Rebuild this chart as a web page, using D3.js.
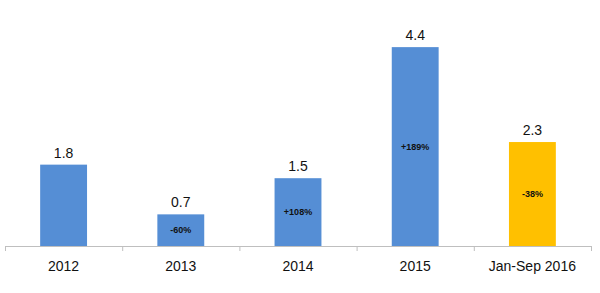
<!DOCTYPE html>
<meta charset="utf-8">
<style>
body { margin: 0; background: #fff; }
text { font-family: "Liberation Sans", Arial, sans-serif; fill: #111; }
.value { font-size: 14px; text-anchor: middle; }
.change { font-size: 9px; font-weight: bold; text-anchor: middle; }
.axis text { font-size: 14px; fill: #111; }
</style>
<svg width="600" height="293"></svg>
<script src="https://d3js.org/d3.v7.min.js"></script>
<script>

var categories = ["2012", "2013", "2014", "2015", "Jan-Sep 2016"];
var values = [1.8, 0.7, 1.5, 4.4, 2.3];
var changes = ["", "-60%", "+108%", "+189%", "-38%"];
var colors = ["#558ED5", "#558ED5", "#558ED5", "#558ED5", "#FFC000"];

var svg = d3.select("svg");

var x = d3.scaleBand()
    .domain(categories)
    .range([5, 591])
    .paddingInner(0.6)
    .paddingOuter(0.3);

var y = d3.scaleLinear()
    .domain([0, 5])
    .range([246, 20]);

var data = categories.map(function(c, i) {
  return {cat: c, value: values[i], change: changes[i], color: colors[i]};
});

// axis line with ticks between the categories
var axis = svg.append("g").attr("class", "axis");
axis.append("line")
    .attr("x1", 5).attr("x2", 591)
    .attr("y1", y(0) + 0.5).attr("y2", y(0) + 0.5)
    .attr("stroke", "#BFBFBF");
axis.selectAll(".tick")
    .data(d3.range(categories.length + 1))
  .enter().append("line")
    .attr("x1", function(i) { return 5 + i * 586 / categories.length + 0.5; })
    .attr("x2", function(i) { return 5 + i * 586 / categories.length + 0.5; })
    .attr("y1", y(0))
    .attr("y2", y(0) + 5)
    .attr("stroke", "#BFBFBF");
axis.selectAll(".lbl")
    .data(categories)
  .enter().append("text")
    .attr("x", function(d) { return x(d) + x.bandwidth() / 2; })
    .attr("y", 271)
    .attr("text-anchor", "middle")
    .text(function(d) { return d; });

svg.selectAll(".bar")
    .data(data)
  .enter().append("rect")
    .attr("class", "bar")
    .attr("x", function(d) { return x(d.cat); })
    .attr("width", x.bandwidth())
    .attr("y", function(d) { return y(d.value); })
    .attr("height", function(d) { return y(0) - y(d.value); })
    .attr("fill", function(d) { return d.color; });

svg.selectAll(".value")
    .data(data)
  .enter().append("text")
    .attr("class", "value")
    .attr("x", function(d) { return x(d.cat) + x.bandwidth() / 2; })
    .attr("y", function(d) { return y(d.value) - 7; })
    .text(function(d) { return d.value.toFixed(1); });

svg.selectAll(".change")
    .data(data.filter(function(d) { return d.change; }))
  .enter().append("text")
    .attr("class", "change")
    .attr("x", function(d) { return x(d.cat) + x.bandwidth() / 2; })
    .attr("y", function(d) { return (y(d.value) + y(0)) / 2 + 3; })
    .text(function(d) { return d.change; });

</script>
